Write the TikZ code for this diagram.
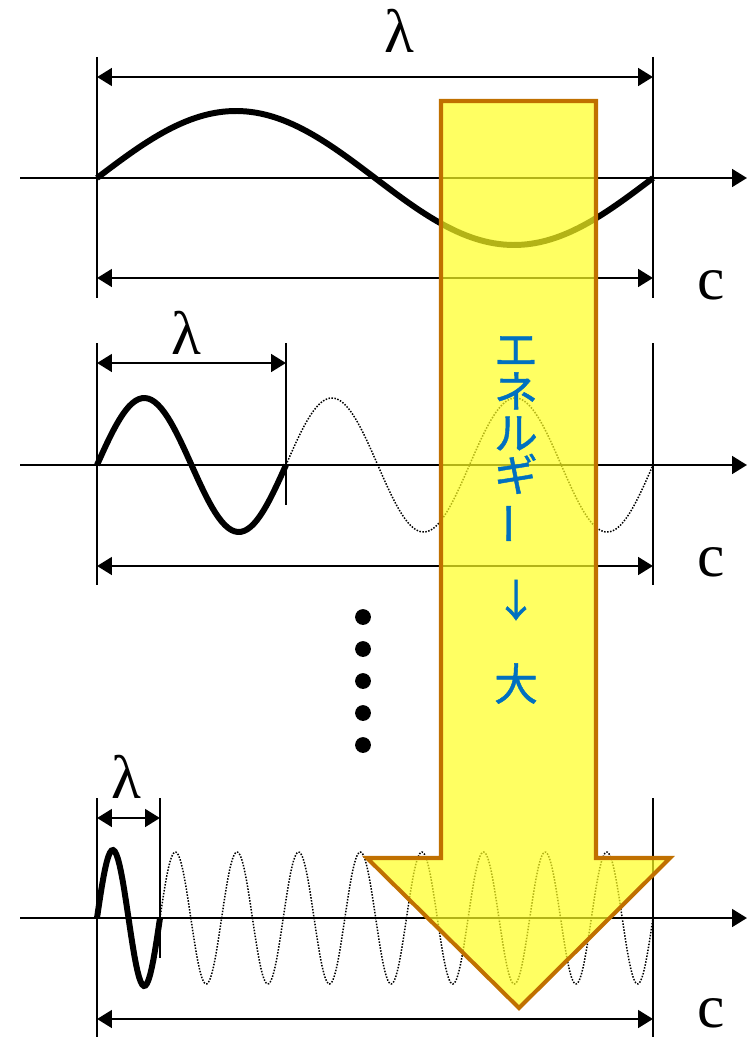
\documentclass[tikz,border=0pt]{standalone}
\usepackage{fontspec}
\setmainfont{Liberation Serif}
\newfontfamily\jpfont[FakeBold=1]{Noto Sans CJK JP}
\usepackage{tikz}
\usetikzlibrary{arrows.meta}
\definecolor{nrgblue}{HTML}{0070C0}
\definecolor{nrgedge}{HTML}{C07000}
\definecolor{nrgfill}{HTML}{FFFF20}
\newcommand{\vch}[1]{\smash{#1}}

\begin{document}
\begin{tikzpicture}[
  x=0.02cm, y=-0.02cm,
  axis/.style     = {-{Triangle[length=8.5pt,width=10pt]}, line width=1.6pt},
  dimarr/.style   = {{Triangle[length=8.5pt,width=10pt]}-{Triangle[length=8.5pt,width=10pt]},
                     line width=1.6pt},
  extline/.style  = {line width=1.1pt},
  bigwave/.style  = {line width=3.4pt},
  ghostwave/.style= {line width=0.85pt, dash pattern=on 0.85pt off 0.85pt},
  sym/.style      = {font=\fontsize{35}{35}\selectfont, inner sep=0pt},
  nrgarrow/.style = {draw=nrgedge, fill=nrgfill, fill opacity=0.7,
                     line width=2.3pt, line join=miter},
  nrgtext/.style  = {text=nrgblue, align=center, inner sep=0pt,
                     font=\jpfont\fontsize{25}{23.8}\selectfont},
]
\useasboundingbox (0,0) rectangle (747,1037);

% long wave
\coordinate (a1s) at (20,178);   \coordinate (a1e) at (747,178);
\coordinate (l1t) at (97,57);    \coordinate (l1b) at (97,298);
\coordinate (r1t) at (653,57);   \coordinate (r1b) at (653,298);
\coordinate (w1l) at (97,77);    \coordinate (w1r) at (653,77);
\coordinate (c1l) at (97,278);   \coordinate (c1r) at (653,278);
\draw[extline] (l1t) -- (l1b);
\draw[extline] (r1t) -- (r1b);
\draw[axis] (a1s) -- (a1e);
\draw[dimarr] (w1l) -- (w1r);
\draw[dimarr] (c1l) -- (c1r);
\draw[bigwave] plot[domain=97:653, samples=120] (\x, {178-67*sin((\x-97)/556*360)});
\node[sym] (lam1) at (399,31) {λ};
\node[sym] (c1) at (711,285) {c};

% middle wave
\coordinate (a2s) at (20,465);   \coordinate (a2e) at (747,465);
\coordinate (l2t) at (97,343);   \coordinate (l2b) at (97,585);
\coordinate (m2t) at (286,343);  \coordinate (m2b) at (286,505);
\coordinate (r2t) at (653,343);  \coordinate (r2b) at (653,585);
\coordinate (w2l) at (97,363);   \coordinate (w2r) at (286,363);
\coordinate (c2l) at (97,566);   \coordinate (c2r) at (653,566);
\draw[extline] (l2t) -- (l2b);
\draw[extline] (m2t) -- (m2b);
\draw[extline] (r2t) -- (r2b);
\draw[axis] (a2s) -- (a2e);
\draw[dimarr] (w2l) -- (w2r);
\draw[dimarr] (c2l) -- (c2r);
\draw[bigwave] plot[domain=97:286, samples=60] (\x, {465-67*sin((\x-97)/189*360)});
\draw[ghostwave] plot[domain=286:653, samples=160] (\x, {465-67*sin((\x-286)/183.5*360)});
\node[sym] (lam2) at (186,333) {λ};
\node[sym] (c2) at (711,562) {c};

% dots
\fill (363,617) circle[radius=4.5pt] (363,649) circle[radius=4.5pt]
      (363,681) circle[radius=4.5pt] (363,713) circle[radius=4.5pt]
      (363,745) circle[radius=4.5pt];

% short wave
\coordinate (a3s) at (20,918);   \coordinate (a3e) at (747,918);
\coordinate (l3t) at (97,798);   \coordinate (l3b) at (97,1037);
\coordinate (m3t) at (160,798);  \coordinate (m3b) at (160,958);
\coordinate (r3t) at (653,798);  \coordinate (r3b) at (653,1037);
\coordinate (w3l) at (97,818);   \coordinate (w3r) at (160,818);
\coordinate (c3l) at (97,1019);  \coordinate (c3r) at (653,1019);
\draw[extline] (l3t) -- (l3b);
\draw[extline] (m3t) -- (m3b);
\draw[extline] (r3t) -- (r3b);
\draw[axis] (a3s) -- (a3e);
\draw[dimarr] (w3l) -- (w3r);
\draw[dimarr] (c3l) -- (c3r);
\draw[bigwave] plot[domain=97:160, samples=40] (\x, {918-68*sin((\x-97)/63*360)});
\draw[ghostwave] plot[domain=160:653, samples=400] (\x, {918-66*sin((\x-160)/61.625*360)});
\node[sym] (lam3) at (126,777) {λ};
\node[sym] (c3) at (711,1013) {c};

% energy arrow
\draw[nrgarrow] (441,101) -- (596,101) -- (596,858) -- (670,858)
  -- (519,1008) -- (367,858) -- (441,858) -- cycle;
\node[nrgtext] (nrg) at (516,533)
  {\vch{エ}\\\vch{ネ}\\\vch{ル}\\\vch{ギ}\\\vch{\rotatebox[origin=c]{90}{ー}}\\[23.8pt]\vch{↓}\\[23.8pt]\vch{大}};
\end{tikzpicture}
\end{document}
